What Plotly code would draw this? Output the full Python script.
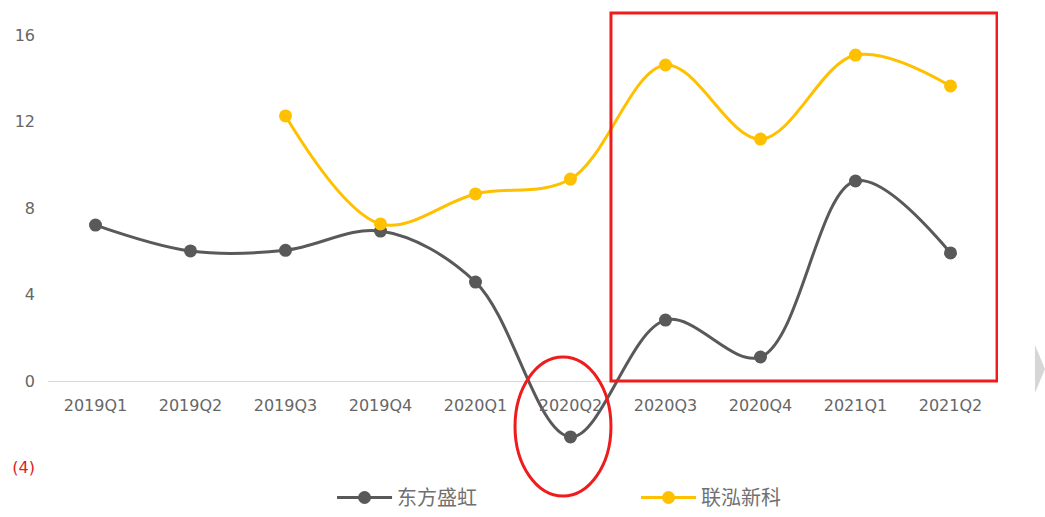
import plotly.graph_objects as go

quarters = ["2019Q1", "2019Q2", "2019Q3", "2019Q4", "2020Q1",
            "2020Q2", "2020Q3", "2020Q4", "2021Q1", "2021Q2"]
dongfang = [7.22, 6.02, 6.05, 6.94, 4.58, -2.59, 2.82, 1.11, 9.26, 5.93]
lianhong = [None, None, 12.27, 7.27, 8.66, 9.35, 14.63, 11.2, 15.09, 13.66]
ytick_vals = [-4, 0, 4, 8, 12, 16]
ytick_text = ['<span style="color:#E02020">(4)</span>', "0", "4", "8", "12", "16"]

GRAY = "#595959"
GOLD = "#FFC000"

fig = go.Figure()
fig.add_trace(go.Scatter(
    x=quarters, y=dongfang, name="东方盛虹", mode="lines+markers",
    line=dict(color=GRAY, width=3, shape="spline", smoothing=1.0),
    marker=dict(color=GRAY, size=13),
))
fig.add_trace(go.Scatter(
    x=quarters, y=lianhong, name="联泓新科", mode="lines+markers",
    line=dict(color=GOLD, width=3, shape="spline", smoothing=1.0),
    marker=dict(color=GOLD, size=13),
))

# plot area spans pixel rows 10..517; 21.6 px per unit, zero at row 381
y_hi = (381 - 10) / 21.6
y_lo = (381 - 517) / 21.6
zero_pos = (0 - y_lo) / (y_hi - y_lo)

fig.update_layout(
    width=1045, height=517,
    margin=dict(l=48, r=47, t=10, b=0),
    paper_bgcolor="white", plot_bgcolor="white",
    font=dict(family="DejaVu Sans", size=16, color="#666666"),
    showlegend=True,
    legend=dict(
        orientation="h", xref="paper", yref="paper",
        x=0.299, xanchor="left", y=0.0, yanchor="bottom",
        font=dict(family="Noto Sans CJK SC", size=20, color="#707070"),
        entrywidth=234, entrywidthmode="pixels",
        itemwidth=55,
        bgcolor="rgba(0,0,0,0)",
    ),
    xaxis=dict(
        type="category", range=[-0.5, 9.5],
        anchor="free", position=zero_pos,
        showgrid=False, showline=False, zeroline=False,
        ticks="", ticklabelstandoff=13,
        tickfont=dict(family="DejaVu Sans", size=16, color="#666666"),
    ),
    yaxis=dict(
        range=[y_lo, y_hi], tickvals=ytick_vals, ticktext=ytick_text,
        showgrid=False, showline=False,
        zeroline=True, zerolinecolor="#D9D9D9", zerolinewidth=1,
        ticks="", ticklabelstandoff=12,
        tickfont=dict(family="DejaVu Sans", size=16, color="#666666"),
    ),
    shapes=[
        dict(type="rect", xref="x", yref="y", x0=5.426, x1=9.49, y0=0.0, y1=17.04,
             line=dict(color="#EE1C1C", width=3), fillcolor="rgba(0,0,0,0)"),
        dict(type="circle", xref="x", yref="y", x0=4.416, x1=5.426, y0=-5.32, y1=1.11,
             line=dict(color="#EE1C1C", width=3), fillcolor="rgba(0,0,0,0)"),
        dict(type="path", xref="paper", yref="paper",
             path="M 1.0389 0.3392 L 1.0495 0.2919 L 1.0389 0.2446 Z",
             line=dict(width=0), fillcolor="#D6D6D6"),
    ],
)

fig.write_html("out.html")
